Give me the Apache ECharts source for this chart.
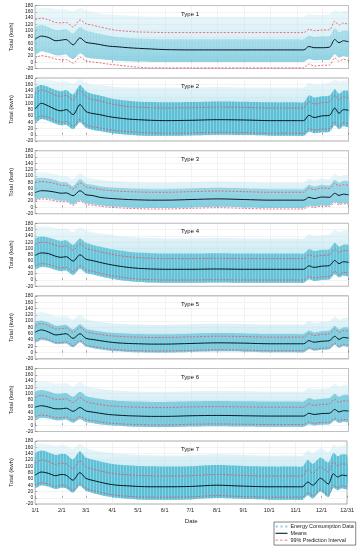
<!DOCTYPE html>
<html><head><meta charset="utf-8">
<script src="https://cdn.jsdelivr.net/npm/echarts@6/dist/echarts.min.js"></script>
<style>html,body{margin:0;padding:0;background:#fff}#c{width:357px;height:550px}</style>
</head><body><div id="c"></div>
<script>
// ---------------- data ----------------
const DAYS = [0,7,15,24,30,36,44,52,59,66,75,85,95,108,120,135,151,181,212,243,273,304,312,318,324,333,342,348,353,358,364];
const X_TICKS = [0,31,59,90,120,151,181,212,243,273,304,334,364];
const X_LABELS = ['1/1','2/1','3/1','4/1','5/1','6/1','7/1','8/1','9/1','10/1','11/1','12/1','12/31'];
const TYPES = ['Type 1','Type 2','Type 3','Type 4','Type 5','Type 6','Type 7'];

const MEAN_1 = [73,83,79,68,70,72,55,77,63,60,56,51,49,46,44,42,40,39,39,39,39,39,39,50,46,46,48,72,62,68,65];
const UPPER_1 = [135,140,135,126,125,126,112,134,122,118,112,106,101,98,96,95,94,94,94,94,94,94,94,105,100,102,103,130,118,124,120];
const LOWER_1 = [11,21,17,10,8,8,-3,16,4,1,-2,-6,-9,-13,-16,-18,-18,-18,-18,-18,-18,-18,-18,-6,-12,-10,-9,14,3,9,6];
const DLO_1 = [25,35,30,22,22,24,10,28,16,12,10,7,5,3,2,1,1,1,1,1,1,1,1,10,6,8,8,25,15,20,18];
const DHI_1 = [110,118,112,102,102,104,92,112,100,96,90,84,80,77,75,74,73,73,73,73,73,73,73,85,80,82,83,108,95,100,98];
const SHI_1 = [168,172,172,170,168,168,162,172,165,160,155,152,150,148,146,145,144,144,144,144,144,144,144,152,150,150,152,165,160,162,160];

const MEAN_2 = [82,100,92,80,76,80,64,96,74,68,64,58,54,50,48,46,45,46,48,47,45,45,45,62,55,60,62,85,68,80,78];
const UPPER_2 = [130,142,136,125,122,125,110,142,120,112,108,100,95,90,88,86,85,86,88,87,85,85,85,105,98,102,105,125,110,120,118];
const LOWER_2 = [50,60,55,45,40,42,28,50,32,26,22,17,13,10,8,6,5,6,8,7,5,5,5,20,15,18,20,42,28,38,36];
const DLO_2 = [40,50,45,35,30,32,18,40,22,16,12,7,3,0,-2,-3,-3,-2,0,-1,-3,-3,-3,10,5,8,10,30,18,28,25];
const DHI_2 = [148,158,152,142,138,142,128,158,138,130,125,118,112,108,105,104,103,104,106,105,103,103,103,125,118,122,125,145,130,140,138];
const SHI_2 = [170,176,175,170,168,170,162,178,165,160,158,155,152,150,150,150,150,150,152,150,150,150,150,165,160,162,165,175,170,172,170];

const MEAN_3 = [47,53,52,48,45,46,37,53,40,38,32,29,27,25,24,23,23,25,27,25,23,23,23,32,28,33,32,45,38,42,40];
const UPPER_3 = [79,82,80,75,70,70,58,78,65,62,57,54,52,50,49,48,48,50,52,50,48,48,48,62,56,62,60,76,68,72,70];
const LOWER_3 = [22,27,25,20,18,18,7,20,10,7,4,1,-1,-3,-4,-5,-5,-3,-1,-3,-5,-5,-5,3,0,4,3,15,8,12,10];
const DLO_3 = [25,30,28,23,21,21,10,23,13,10,7,4,2,0,-1,-2,-2,0,2,0,-2,-2,-2,6,3,7,6,18,11,15,13];
const DHI_3 = [90,94,92,86,80,80,68,90,75,72,67,64,62,60,59,58,58,60,62,60,58,58,58,72,66,72,70,88,78,84,82];
const SHI_3 = [108,112,110,105,100,100,90,110,96,92,88,85,83,80,79,78,78,80,82,80,78,78,78,92,86,92,90,108,98,104,102];

const MEAN_4 = [78,86,84,75,72,74,60,80,66,62,56,50,45,40,37,35,34,34,35,34,34,34,34,45,40,44,46,62,52,58,56];
const UPPER_4 = [112,120,118,110,106,108,95,115,100,96,90,84,78,74,71,69,68,68,69,68,68,68,68,80,75,78,80,98,88,94,92];
const LOWER_4 = [45,52,50,42,38,40,26,46,32,28,22,16,11,6,3,1,0,0,1,0,0,0,0,12,7,10,12,28,18,24,22];
const DLO_4 = [35,42,40,32,28,30,16,36,22,18,12,6,1,-3,-6,-8,-9,-9,-8,-9,-9,-9,-9,2,-3,0,2,18,8,14,12];
const DHI_4 = [130,138,135,128,124,126,112,132,118,112,106,100,95,90,87,85,84,84,85,84,84,84,84,98,92,96,98,118,106,112,110];
const SHI_4 = [165,170,170,165,162,163,152,168,158,152,148,145,140,138,135,133,132,132,133,132,132,132,132,145,140,142,145,160,152,158,155];

const MEAN_5 = [65,72,66,56,58,60,45,60,45,42,38,34,31,29,28,27,27,29,31,30,28,28,28,38,33,36,38,52,42,48,46];
const UPPER_5 = [86,92,86,75,76,78,64,80,66,62,58,54,52,50,49,48,48,50,52,51,49,49,49,60,54,58,60,75,64,70,68];
const LOWER_5 = [38,46,42,32,32,34,22,38,24,20,16,12,9,7,6,5,5,7,9,8,6,6,6,16,11,14,16,30,20,26,24];
const DLO_5 = [33,41,37,27,27,29,17,33,19,15,11,7,4,2,1,0,0,2,4,3,1,1,1,11,6,9,11,25,15,21,19];
const DHI_5 = [95,102,96,85,86,88,74,90,76,72,68,64,62,60,59,58,58,60,62,61,59,59,59,70,64,68,70,85,74,80,78];
const SHI_5 = [125,130,125,115,115,117,105,120,106,102,98,94,92,90,89,88,88,90,92,91,89,89,89,100,94,98,100,115,104,110,108];

const MEAN_6 = [57,62,58,52,52,54,44,56,45,42,38,34,32,30,29,28,28,30,31,30,29,29,29,38,34,37,38,50,42,46,45];
const UPPER_6 = [88,95,90,82,82,84,72,88,75,70,66,62,60,58,57,56,56,58,59,58,57,57,57,68,63,66,68,82,72,78,76];
const LOWER_6 = [28,32,30,24,24,26,16,28,18,15,11,7,5,3,2,1,1,3,4,3,2,2,2,10,6,9,10,22,14,18,17];
const DLO_6 = [20,24,22,16,16,18,8,20,10,7,3,0,-2,-4,-5,-6,-6,-4,-3,-4,-5,-5,-5,3,-1,2,3,15,7,11,10];
const DHI_6 = [105,112,108,100,100,102,90,106,93,88,84,80,78,76,75,74,74,76,77,76,75,75,75,86,81,84,86,100,90,96,94];
const SHI_6 = [135,140,138,132,132,134,122,138,125,120,116,112,110,108,107,106,106,108,109,108,107,107,107,118,113,116,118,132,122,128,126];

const MEAN_7 = [72,82,78,70,74,72,56,80,62,56,50,44,40,38,36,35,35,36,40,37,35,35,35,50,40,62,44,76,66,72,70];
const UPPER_7 = [110,120,115,106,110,108,92,118,98,92,86,80,76,73,71,70,69,70,74,71,69,69,69,90,78,98,82,113,102,108,106];
const LOWER_7 = [40,48,44,36,40,38,24,46,30,24,18,12,8,5,3,2,2,3,7,4,2,2,2,16,6,28,10,40,32,38,35];
const DLO_7 = [32,40,36,28,32,30,16,38,22,16,10,4,0,-3,-5,-6,-6,-5,-1,-4,-6,-6,-6,8,-2,20,2,32,24,30,27];
const DHI_7 = [140,150,145,136,140,138,122,148,128,122,116,110,106,103,101,100,99,100,104,101,99,99,99,120,108,128,112,143,132,138,136];
const SHI_7 = [168,172,170,165,168,166,155,172,158,152,148,144,140,138,136,135,134,135,138,136,134,134,134,152,142,158,145,170,162,166,165];

const PANELS = [
  {mean:MEAN_1, up:UPPER_1, lo:LOWER_1, dlo:DLO_1, dhi:DHI_1, shi:SHI_1, dense:0.15},
  {mean:MEAN_2, up:UPPER_2, lo:LOWER_2, dlo:DLO_2, dhi:DHI_2, shi:SHI_2, dense:1.0},
  {mean:MEAN_3, up:UPPER_3, lo:LOWER_3, dlo:DLO_3, dhi:DHI_3, shi:SHI_3, dense:0.35},
  {mean:MEAN_4, up:UPPER_4, lo:LOWER_4, dlo:DLO_4, dhi:DHI_4, shi:SHI_4, dense:0.85},
  {mean:MEAN_5, up:UPPER_5, lo:LOWER_5, dlo:DLO_5, dhi:DHI_5, shi:SHI_5, dense:0.55},
  {mean:MEAN_6, up:UPPER_6, lo:LOWER_6, dlo:DLO_6, dhi:DHI_6, shi:SHI_6, dense:0.6},
  {mean:MEAN_7, up:UPPER_7, lo:LOWER_7, dlo:DLO_7, dhi:DHI_7, shi:SHI_7, dense:1.0}
];

// ---------------- layout / style ----------------
const W = 357, LEFT = 21.5, RIGHT = 8.5, TOP0 = 5.5, STEP = 72.6, H = 63;
const FONT = 'Liberation Sans, Arial, sans-serif';
const chart = echarts.init(document.getElementById('c'), null, {renderer:'canvas'});

function stripes(a){
  const cv = document.createElement('canvas'); cv.width = 3; cv.height = 2;
  const g = cv.getContext('2d');
  const al = (0.25 + 0.65*a).toFixed(2);
  g.fillStyle = 'rgba(82,186,210,' + al + ')'; g.fillRect(0,0,3,2);
  g.fillStyle = 'rgba(140,212,228,' + al + ')'; g.fillRect(0,0,1,2);
  return {image: cv, repeat: 'repeat'};
}
function band(hi, lo){
  return function(params, api){
    const pts = [];
    for (let k = 0; k < DAYS.length; k++) pts.push(api.coord([DAYS[k], hi[k]]));
    for (let k = DAYS.length-1; k >= 0; k--) pts.push(api.coord([DAYS[k], lo[k]]));
    return pts;
  };
}

const grids = [], xAxes = [], yAxes = [], series = [], titles = [];
PANELS.forEach((p, i) => {
  const top = TOP0 + STEP*i;
  const last = i === PANELS.length-1;
  grids.push({left: LEFT, right: RIGHT, top: top, height: H, show: true, borderColor: '#555', borderWidth: 0.6, backgroundColor: 'transparent'});
  xAxes.push({
    type: 'value', gridIndex: i, min: 0, max: 364,
    name: last ? 'Date' : '', nameLocation: 'middle', nameGap: 14,
    nameTextStyle: {fontSize: 6, fontFamily: FONT, color: '#222'},
    axisLine: {show: false},
    axisTick: {show: true, inside: true, length: 2, customValues: X_TICKS, lineStyle: {color: '#555', width: 0.5}},
    axisLabel: {show: last, customValues: X_TICKS, fontSize: 5.5, fontFamily: FONT, color: '#222', margin: 3,
      formatter: v => X_LABELS[X_TICKS.indexOf(v)]},
    splitLine: {show: true, lineStyle: {color: '#e6e6e6', width: 0.5}}
  });
  yAxes.push({
    type: 'value', gridIndex: i, min: -20, max: 180, interval: 20,
    name: 'Total (kwh)', nameLocation: 'middle', nameGap: 12,
    nameTextStyle: {fontSize: 6, fontFamily: FONT, color: '#222'},
    axisLine: {show: false},
    axisTick: {show: true, inside: true, length: 2, lineStyle: {color: '#555', width: 0.5}},
    axisLabel: {fontSize: 5, fontFamily: FONT, color: '#222', margin: 2},
    splitLine: {show: true, lineStyle: {color: '#e6e6e6', width: 0.5}}
  });
  titles.push({text: TYPES[i], left: LEFT + (W-LEFT-RIGHT)/2, top: top + 0.5, textAlign: 'center',
    textStyle: {fontSize: 6, fontWeight: 'normal', fontFamily: FONT, color: '#111'}});

  const sparse = band(p.shi, p.dlo), dense = band(p.dhi, p.dlo);
  series.push({
    name: 'Energy Consumption Data', type: 'custom', xAxisIndex: i, yAxisIndex: i, data: [[0,0]], silent: true, z: 1,
    renderItem: (params, api) => ({type: 'polygon', shape: {points: sparse(params, api), smooth: 0.25},
      style: {fill: {type: 'linear', x: 0, y: 0, x2: 0, y2: 1, colorStops: [
        {offset: 0, color: 'rgba(205,236,244,0.4)'},
        {offset: 0.6, color: 'rgba(165,218,233,' + (0.35 + 0.35*p.dense).toFixed(2) + ')'},
        {offset: 1, color: 'rgba(150,210,228,0.75)'}]}}})
  });
  series.push({
    name: 'Energy Consumption Data', type: 'custom', xAxisIndex: i, yAxisIndex: i, data: [[0,0]], silent: true, z: 2,
    renderItem: (params, api) => ({type: 'polygon', shape: {points: dense(params, api), smooth: 0.25},
      style: {fill: stripes(p.dense)}})
  });
  series.push({
    name: 'Means', type: 'line', xAxisIndex: i, yAxisIndex: i, symbol: 'none', smooth: 0.3, z: 5, silent: true,
    data: DAYS.map((d, k) => [d, p.mean[k]]),
    lineStyle: {color: '#0b1a26', width: 1}
  });
  ['up', 'lo'].forEach(key => series.push({
    name: '99% Prediction Interval', type: 'line', xAxisIndex: i, yAxisIndex: i, symbol: 'none', smooth: 0.3, z: 4, silent: true,
    data: DAYS.map((d, k) => [d, p[key][k]]),
    lineStyle: {color: '#e44f63', width: 0.8, type: [2, 1.5]}
  }));
});

chart.setOption({
  animation: false,
  backgroundColor: '#fff',
  title: titles,
  grid: grids, xAxis: xAxes, yAxis: yAxes, series: series,
  legend: {
    orient: 'vertical', left: 274, top: 522, selectedMode: false,
    borderColor: '#333', borderWidth: 0.6, backgroundColor: '#fff', borderRadius: 0,
    padding: [2, 2, 2.5, 1.5], itemGap: 1.8, itemWidth: 12, itemHeight: 5,
    textStyle: {fontSize: 5.4, fontFamily: FONT, color: '#222', padding: [0, 0, 0, -2]},
    data: [
      {name: 'Energy Consumption Data', icon: 'path://M1,2a1,1 0 1,0 2,0a1,1 0 1,0 -2,0zM5,2a1,1 0 1,0 2,0a1,1 0 1,0 -2,0zM9,2a1,1 0 1,0 2,0a1,1 0 1,0 -2,0z', itemStyle: {color: '#9fd3e2'}},
      {name: 'Means', icon: 'path://M0,0h12v1.1h-12z', itemStyle: {color: '#0b1a26'}},
      {name: '99% Prediction Interval', icon: 'path://M0,0h2.5v0.9h-2.5zM4.5,0h2.5v0.9h-2.5zM9,0h3v0.9h-3z', itemStyle: {color: '#e44f63'}}
    ]
  }
});
</script></body></html>
